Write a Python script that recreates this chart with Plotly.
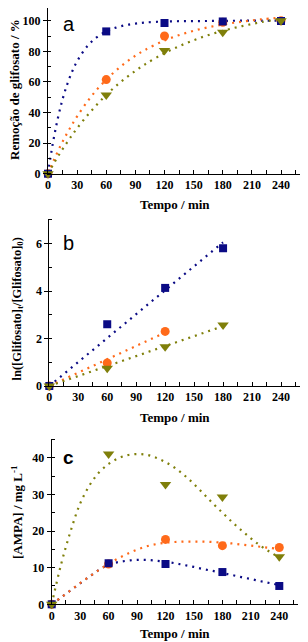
import plotly.graph_objects as go

# ---------------- data ----------------
t_pts = [0, 60, 120, 180, 240]

# panel a: glyphosate removal (%)
a_blue = [0, 93, 98.5, 99.5, 99.8]
a_orange = [0, 61.5, 90, 99, 100]
a_green = [0, 51.5, 80.5, 92.5, 100]
a_fit_t = [0, 5, 10, 15, 20, 25, 30, 40, 50, 60, 70, 80, 90, 100, 120, 140, 160, 180, 200, 220, 240]
a_fit_blue = [0, 19.9, 35.8, 48.6, 58.8, 67, 73.5, 83, 89.1, 93, 95.5, 97.1, 98.1, 98.8, 99.5, 99.7, 99.8, 99.9, 100, 100, 100]
a_fit_orange = [0, 7.4, 14.4, 20.9, 26.8, 32.3, 37.5, 46.7, 54.7, 61.5, 67.4, 72.6, 77.1, 80.9, 87.1, 91.6, 95, 97.5, 99.4, 100.9, 102]
a_fit_green = [0, 5.6, 11, 16, 20.8, 25.4, 29.7, 37.7, 44.9, 51.5, 57.3, 62.5, 67.2, 71.5, 78.8, 84.7, 89.5, 93.4, 96.5, 99.1, 101.2]

# panel b: ln([Gly]t/[Gly]0)
b_blue_t = [0, 60, 120, 180]
b_blue = [0, 2.6, 4.13, 5.8]
b_orange_t = [0, 60, 120]
b_orange = [0, 0.97, 2.3]
b_green_t = [0, 60, 120, 180]
b_green = [0, 0.75, 1.65, 2.57]
b_fit_blue_t = [0, 180]
b_fit_blue = [0, 6.05]
b_fit_orange_t = [0, 120]
b_fit_orange = [0, 2.25]
b_fit_green_t = [0, 180]
b_fit_green = [0, 2.52]

# panel c: [AMPA] / mg L-1
c_blue = [0, 11.2, 11, 8.8, 5]
c_orange = [0, 11, 17.7, 16, 15.5]
c_green = [0, 41, 32.7, 29.3, 13]
c_fit_t = [0, 10, 20, 30, 40, 50, 60, 70, 80, 90, 100, 110, 120, 130, 140, 150, 160, 170, 180, 190, 200, 210, 220, 230, 240]
c_fit_blue = [0, 1.9, 3.8, 5.7, 7.6, 9.4, 10.8, 11.5, 11.9, 12.1, 12.1, 11.9, 11.6, 11.2, 10.7, 10.2, 9.6, 9.1, 8.5, 8.0, 7.4, 6.9, 6.3, 5.8, 5.2]
c_fit_orange = [0, 1.9, 3.8, 5.8, 7.6, 9.4, 11, 12.5, 13.8, 14.9, 15.8, 16.4, 16.8, 17.0, 17.1, 17.1, 17.1, 17.0, 16.8, 16.6, 16.3, 16.0, 15.7, 15.4, 15.1]
c_fit_green = [0, 11, 20, 27.5, 32.5, 36, 38.3, 39.8, 40.7, 41, 40.8, 40, 38.8, 37.2, 35.2, 32.8, 30.2, 27.5, 25, 22.5, 20.2, 18, 16, 14.3, 12.8]

x_tickvals = [0, 30, 60, 90, 120, 150, 180, 210, 240]

# ---------------- style / layout ----------------
BLUE = "#0b0b85"
ORANGE = "#ff6a1a"
GREEN = "#7f7f0a"
OFF = 8                      # page body margin
W, H = 308 - OFF, 642 - OFF
SERIF = "Liberation Serif"
DOT = "2px,5px"


def px_x(px):
    return (px - OFF) / W


def px_y(py):
    return 1 - (py - OFF) / H


fig = go.Figure()


def add_line(x, y, color, ax):
    fig.add_trace(go.Scatter(x=x, y=y, mode="lines", line=dict(color=color, width=2.2, dash=DOT, shape="spline"),
                             xaxis="x" + ax, yaxis="y" + ax, showlegend=False, hoverinfo="skip"))


def add_marks(x, y, color, symbol, size, ax):
    fig.add_trace(go.Scatter(x=x, y=y, mode="markers", marker=dict(color=color, symbol=symbol, size=size,
                             line=dict(width=0)), cliponaxis=False,
                             xaxis="x" + ax, yaxis="y" + ax, showlegend=False))


# panel a
add_line(a_fit_t, a_fit_blue, BLUE, "")
add_line(a_fit_t, a_fit_orange, ORANGE, "")
add_line(a_fit_t, a_fit_green, GREEN, "")
add_marks(t_pts, a_orange, ORANGE, "circle", 9, "")
add_marks(t_pts, a_blue, BLUE, "square", 8, "")
add_marks(t_pts, a_green, GREEN, "triangle-down", 10, "")

# panel b
add_line(b_fit_blue_t, b_fit_blue, BLUE, "2")
add_line(b_fit_orange_t, b_fit_orange, ORANGE, "2")
add_line(b_fit_green_t, b_fit_green, GREEN, "2")
add_marks(b_orange_t, b_orange, ORANGE, "circle", 9, "2")
add_marks(b_blue_t, b_blue, BLUE, "square", 8, "2")
add_marks(b_green_t, b_green, GREEN, "triangle-down", 10, "2")

# panel c
add_line(c_fit_t, c_fit_blue, BLUE, "3")
add_line(c_fit_t, c_fit_orange, ORANGE, "3")
add_line(c_fit_t, c_fit_green, GREEN, "3")
add_marks(t_pts, c_orange, ORANGE, "circle", 9, "3")
add_marks(t_pts, c_blue, BLUE, "square", 8, "3")
add_marks(t_pts, c_green, GREEN, "triangle-down", 10, "3")

tickfont = dict(family=SERIF, size=12, color="black", weight="bold")


def xax(x0, x240, x_end, anchor):
    # x0: pixel of t=0, x240: pixel of t=240, x_end: pixel where axis ends
    scale = (x240 - x0) / 240
    x_end = min(x_end, OFF + W)
    return dict(domain=[px_x(x0), px_x(x_end)], range=[0, (x_end - x0) / scale], anchor=anchor,
                showgrid=False, zeroline=False,
                showline=True, linecolor="black", linewidth=1, ticks="inside", ticklen=4, tickcolor="black",
                tickvals=x_tickvals, tickfont=tickfont, automargin=False,
                minor=dict(ticks="inside", ticklen=4, dtick=15, tickcolor="black", showgrid=False))


def yax(y_zero, y_ref, v_ref, y_top, dtick, mdtick, anchor):
    # y_zero: pixel of value 0, y_ref: pixel of value v_ref, y_top: pixel where axis ends
    scale = (y_zero - y_ref) / v_ref
    y_top = max(y_top, OFF)
    return dict(domain=[px_y(y_zero), px_y(y_top)], range=[0, (y_zero - y_top) / scale], anchor=anchor,
                showgrid=False, zeroline=False,
                showline=True, linecolor="black", linewidth=1, ticks="outside", ticklen=4, tickcolor="black",
                dtick=dtick, tick0=0, tickfont=tickfont, automargin=False,
                minor=dict(ticks="inside", ticklen=3, dtick=mdtick, tickcolor="black", showgrid=False))


fig.update_layout(
    width=W, height=H, margin=dict(l=0, r=0, t=0, b=0),
    paper_bgcolor="white", plot_bgcolor="white",
    xaxis=xax(48, 281, 301, "y"), yaxis=yax(173.7, 20.7, 100, 5, 20, 10, "x"),
    xaxis2=xax(49.3, 281, 300.5, "y2"), yaxis2=yax(386, 243.5, 6, 219, 2, 1, "x2"),
    xaxis3=xax(51.7, 279.3, 298.3, "y3"), yaxis3=yax(604.3, 457.7, 40, 439.3, 10, 5, "x3"),
)

titlefont = dict(family=SERIF, size=13, color="black", weight="bold")


def ann(text, px, py, angle=0, font=titlefont):
    fig.add_annotation(text=text, x=px_x(px), y=px_y(py), xref="paper", yref="paper", showarrow=False,
                       textangle=angle, font=font, xanchor="center", yanchor="middle")


ann("Tempo / min", 175, 204)
ann("Tempo / min", 175, 417)
ann("Tempo / min", 175, 633)
ann("Remoção de glifosato / %", 15, 90, -90)
ann("ln([Glifosato]<sub>t</sub>/[Glifosato]<sub>0</sub>)", 17.5, 309, -90,
    dict(family=SERIF, size=12.5, color="black", weight="bold"))
ann("[AMPA] / mg L<sup>-1</sup>", 17, 512, -90)

letter = dict(family="Liberation Sans", size=20, color="black")
ann("a", 69, 24, 0, letter)
ann("b", 68, 243, 0, letter)
ann("c", 68, 457, 0, dict(family="Liberation Sans", size=19, color="black", weight="bold"))

fig.write_html("out.html")
